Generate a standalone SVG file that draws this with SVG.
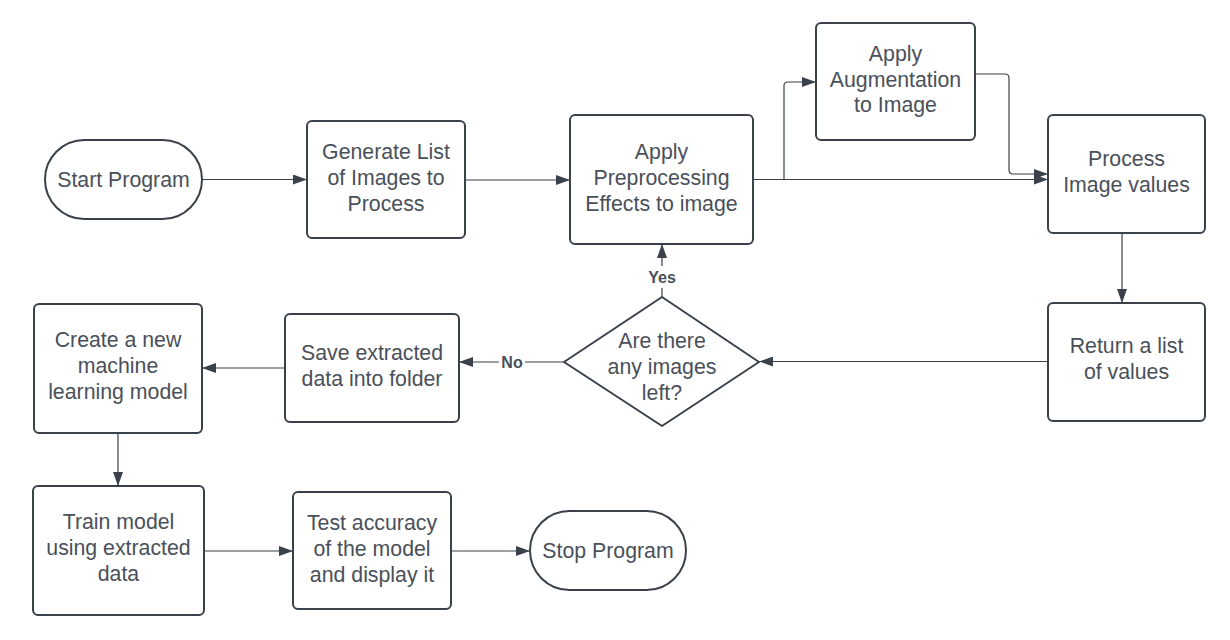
<svg xmlns="http://www.w3.org/2000/svg" width="1230" height="640" viewBox="0 0 1230 640">
<style>
.box{fill:#ffffff;stroke:#3a414a;stroke-width:2}
.t{font-family:"Liberation Sans",Arial,sans-serif;font-size:21.3px;fill:#4a5059;text-anchor:middle;dominant-baseline:central}
.lbl{font-family:"Liberation Sans",Arial,sans-serif;font-size:16px;font-weight:bold;fill:#4a5059;text-anchor:middle;dominant-baseline:central}
.c{fill:none;stroke:#3a414a;stroke-width:1.2}
</style>
<defs>
<marker id="ah" viewBox="0 0 14 10" refX="14" refY="5" markerWidth="14" markerHeight="10" markerUnits="userSpaceOnUse" orient="auto">
<path d="M0,0 L14,5 L0,10 Z" fill="#3a414a"/>
</marker>
</defs>
<rect width="1230" height="640" fill="#ffffff"/>
<g id="connectors">
<path class="c" d="M202,179.5 H307" marker-end="url(#ah)"/>
<path class="c" d="M465,180 H570" marker-end="url(#ah)"/>
<path class="c" d="M753,179.5 H1048" marker-end="url(#ah)"/>
<path class="c" d="M784,179.5 V86 Q784,82 788,82 H816" marker-end="url(#ah)"/>
<path class="c" d="M975,74 H1005 Q1009,74 1009,78 V170 Q1009,174 1013,174 H1048" marker-end="url(#ah)"/>
<path class="c" d="M1122,233 V303" marker-end="url(#ah)"/>
<path class="c" d="M1048,361.5 H759" marker-end="url(#ah)"/>
<path class="c" d="M662,297 V288"/>
<path class="c" d="M662,266 V244" marker-end="url(#ah)"/>
<path class="c" d="M564,362 H525"/>
<path class="c" d="M499,362 H459" marker-end="url(#ah)"/>
<path class="c" d="M285,368 H202" marker-end="url(#ah)"/>
<path class="c" d="M118,433 V486" marker-end="url(#ah)"/>
<path class="c" d="M204,551 H293" marker-end="url(#ah)"/>
<path class="c" d="M451,551 H530" marker-end="url(#ah)"/>
<text class="lbl" x="662" y="277">Yes</text>
<text class="lbl" x="512" y="362">No</text>
</g>
<g id="start">
<rect class="box" x="45" y="140" width="157" height="79" rx="39.5"/>
<text class="t" x="123.5" y="180">Start Program</text>
</g>
<g id="generate">
<rect class="box" x="307" y="121" width="158" height="117" rx="5"/>
<text class="t" x="386" y="152">Generate List</text>
<text class="t" x="386" y="178">of Images to</text>
<text class="t" x="386" y="203.5">Process</text>
</g>
<g id="preprocess">
<rect class="box" x="570" y="115" width="183" height="129" rx="5"/>
<text class="t" x="661.5" y="152">Apply</text>
<text class="t" x="661.5" y="178">Preprocessing</text>
<text class="t" x="661.5" y="203.5">Effects to image</text>
</g>
<g id="augment">
<rect class="box" x="816" y="23" width="159" height="117" rx="5"/>
<text class="t" x="895.5" y="54">Apply</text>
<text class="t" x="895.5" y="79.5">Augmentation</text>
<text class="t" x="895.5" y="105">to Image</text>
</g>
<g id="process">
<rect class="box" x="1048" y="115" width="157" height="118" rx="5"/>
<text class="t" x="1126.5" y="158.5">Process</text>
<text class="t" x="1126.5" y="184.5">Image values</text>
</g>
<g id="return">
<rect class="box" x="1048" y="303" width="157" height="118" rx="5"/>
<text class="t" x="1126.5" y="346">Return a list</text>
<text class="t" x="1126.5" y="372">of values</text>
</g>
<g id="decision">
<path class="box" d="M662,297 L759,362 L662,426 L564,362 Z" stroke-linejoin="round"/>
<text class="t" x="662" y="341">Are there</text>
<text class="t" x="662" y="367">any images</text>
<text class="t" x="662" y="393">left?</text>
</g>
<g id="save">
<rect class="box" x="285" y="314" width="174" height="108" rx="5"/>
<text class="t" x="372" y="353">Save extracted</text>
<text class="t" x="372" y="378.5">data into folder</text>
</g>
<g id="create">
<rect class="box" x="34" y="304" width="168" height="129" rx="5"/>
<text class="t" x="118" y="340">Create a new</text>
<text class="t" x="118" y="366">machine</text>
<text class="t" x="118" y="392">learning model</text>
</g>
<g id="train">
<rect class="box" x="33" y="486" width="171" height="129" rx="5"/>
<text class="t" x="118.5" y="522">Train model</text>
<text class="t" x="118.5" y="548">using extracted</text>
<text class="t" x="118.5" y="574">data</text>
</g>
<g id="test">
<rect class="box" x="293" y="492" width="158" height="117" rx="5"/>
<text class="t" x="372" y="523">Test accuracy</text>
<text class="t" x="372" y="549">of the model</text>
<text class="t" x="372" y="575">and display it</text>
</g>
<g id="stop">
<rect class="box" x="530" y="511" width="156" height="79" rx="39.5"/>
<text class="t" x="608" y="551">Stop Program</text>
</g>
</svg>
